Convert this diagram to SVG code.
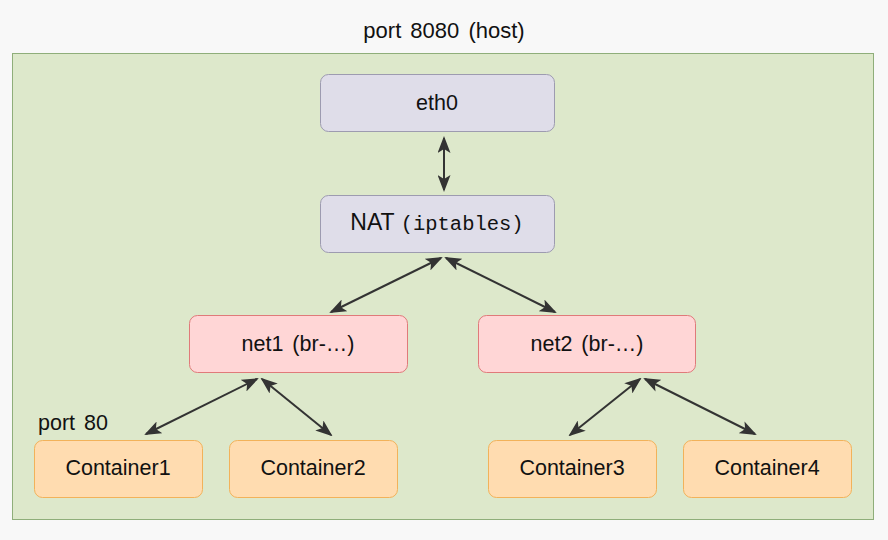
<svg xmlns="http://www.w3.org/2000/svg" width="888" height="540" viewBox="0 0 888 540">
<style>
text{font-family:"Liberation Sans",Arial,sans-serif;font-size:21.5px;fill:#111;text-anchor:middle}
.mono{font-family:"Liberation Mono","DejaVu Sans Mono",monospace;font-size:20.5px}
.gray{fill:#dfdde9;stroke:#9d9bb0;stroke-width:1}
.red{fill:#ffd6d6;stroke:#e07a7a;stroke-width:1}
.org{fill:#ffdcb0;stroke:#f2b25a;stroke-width:1}
.conn line{stroke:#333;stroke-width:2;marker-start:url(#ah);marker-end:url(#ah)}
</style>
<defs>
<marker id="ah" viewBox="0 0 17 13" refX="15" refY="6.5" markerWidth="17" markerHeight="13" markerUnits="userSpaceOnUse" orient="auto-start-reverse">
<path d="M0,0 L17,6.5 L0,13 L4,6.5 Z" fill="#333"/>
</marker>
</defs>
<rect x="0" y="0" width="888" height="540" fill="#f8f8f8"/>
<g id="host">
<rect x="12.5" y="53.5" width="861" height="466" fill="#dde8cb" stroke="#8fae7a" stroke-width="1"/>
<text x="444" y="38" style="font-size:22px" word-spacing="3">port 8080 (host)</text>
</g>
<g id="eth0"><rect class="gray" x="320.5" y="74.5" width="234" height="57" rx="8"/><text x="437" y="110">eth0</text></g>
<g id="nat"><rect class="gray" x="320.5" y="195.5" width="234" height="57" rx="8"/><text x="437" y="230"><tspan style="font-size:23px">NAT </tspan><tspan class="mono">(iptables)</tspan></text></g>
<g id="net1"><rect class="red" x="189.5" y="315.5" width="218" height="57" rx="8"/><text x="298" y="351" word-spacing="3">net1 (br-…)</text></g>
<g id="net2"><rect class="red" x="478.5" y="315.5" width="217" height="57" rx="8"/><text x="587" y="351" word-spacing="3">net2 (br-…)</text></g>
<g id="c1"><rect class="org" x="34.5" y="440.5" width="168" height="57" rx="8"/><text x="118" y="475">Container1</text><text x="73" y="430" word-spacing="3">port 80</text></g>
<g id="c2"><rect class="org" x="229.5" y="440.5" width="168" height="57" rx="8"/><text x="313" y="475">Container2</text></g>
<g id="c3"><rect class="org" x="488.5" y="440.5" width="168" height="57" rx="8"/><text x="572" y="475">Container3</text></g>
<g id="c4"><rect class="org" x="683.5" y="440.5" width="168" height="57" rx="8"/><text x="767" y="475">Container4</text></g>
<g id="connectors" class="conn">
<line x1="444" y1="138" x2="444" y2="190"/>
<line x1="441" y1="258" x2="331" y2="312"/>
<line x1="446" y1="258" x2="555" y2="312"/>
<line x1="257" y1="379" x2="146" y2="434"/>
<line x1="262" y1="379" x2="331" y2="435"/>
<line x1="640" y1="379" x2="570" y2="435"/>
<line x1="645" y1="379" x2="755" y2="434"/>
</g>
</svg>
